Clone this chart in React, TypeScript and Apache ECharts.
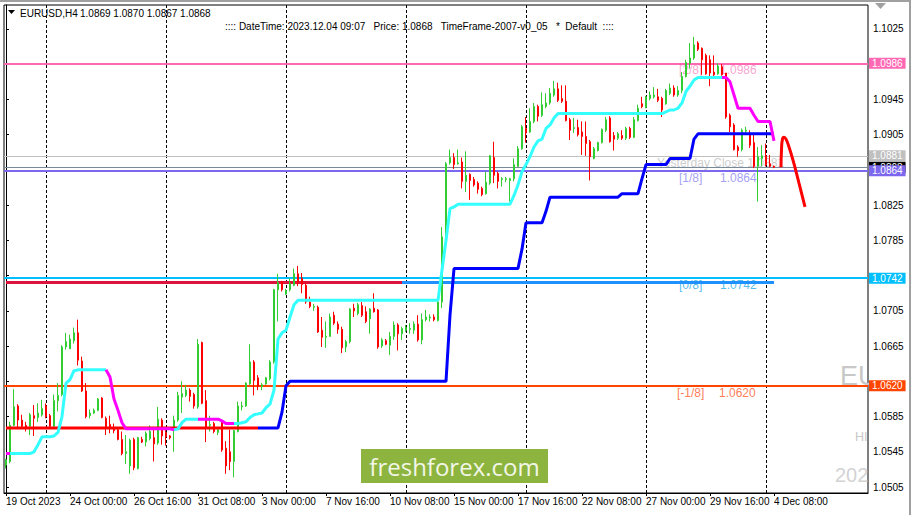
import React, { useEffect, useRef } from 'react';
import * as echarts from 'echarts';

// ---------- texts ----------
const symbolText = 'EURUSD,H4';
const headerPrices = '1.0869 1.0870 1.0867 1.0868';
const infoLine = ':::: DateTime: 2023.12.04 09:07   Price: 1.0868   TimeFrame-2007-v0_05   *  Default  ::::';
const logoText = 'freshforex.com';

// ---------- axes ----------
const xTickLabels = ['19 Oct 2023', '24 Oct 00:00', '26 Oct 16:00', '31 Oct 08:00', '3 Nov 00:00', '7 Nov 16:00', '10 Nov 08:00', '15 Nov 00:00', '17 Nov 16:00', '22 Nov 08:00', '27 Nov 00:00', '29 Nov 16:00', '4 Dec 08:00'];
const barsPerTick = 16;
const weekStartBars = [10, 40, 70, 100, 130, 160, 190];
const slotCount = 216;
const yTicks = [1.0505, 1.0545, 1.0585, 1.0625, 1.0665, 1.0705, 1.0745, 1.0785, 1.0825, 1.0865, 1.0905, 1.0945, 1.0985, 1.1025];
// tick labels that stay visible (the others sit under the price boxes)
const yTickLabels = [1.0505, 1.0545, 1.0585, 1.0665, 1.0705, 1.0785, 1.0825, 1.0905, 1.0945, 1.1025];
const yMin = 1.04982;
const yMax = 1.10522;

// ---------- candles: [open, high, low, close] ----------
const candles: number[][] = [
  [1.0530, 1.0537, 1.0526, 1.0536], [1.0534, 1.0579, 1.0532, 1.0575], [1.0575, 1.0616, 1.0574, 1.0596], [1.0597, 1.0599, 1.0572, 1.0581],
  [1.0581, 1.0587, 1.0572, 1.0574], [1.0575, 1.0579, 1.0568, 1.0573], [1.0574, 1.0589, 1.0564, 1.0587], [1.0586, 1.0598, 1.0563, 1.0583],
  [1.0584, 1.0600, 1.0579, 1.0589], [1.0587, 1.0604, 1.0585, 1.0594], [1.0597, 1.0600, 1.0583, 1.0585], [1.0586, 1.0588, 1.0573, 1.0574],
  [1.0574, 1.0610, 1.0572, 1.0603], [1.0603, 1.0623, 1.0591, 1.0609], [1.0610, 1.0666, 1.0608, 1.0664], [1.0664, 1.0680, 1.0661, 1.0670],
  [1.0662, 1.0678, 1.0662, 1.0673], [1.0671, 1.0686, 1.0668, 1.0680], [1.0680, 1.0695, 1.0643, 1.0649], [1.0648, 1.0653, 1.0613, 1.0614],
  [1.0614, 1.0623, 1.0583, 1.0585], [1.0586, 1.0593, 1.0583, 1.0589], [1.0589, 1.0594, 1.0588, 1.0592], [1.0592, 1.0606, 1.0591, 1.0605],
  [1.0606, 1.0607, 1.0583, 1.0584], [1.0583, 1.0585, 1.0564, 1.0572], [1.0576, 1.0586, 1.0566, 1.0572], [1.0572, 1.0577, 1.0566, 1.0569],
  [1.0570, 1.0572, 1.0558, 1.0559], [1.0559, 1.0568, 1.0541, 1.0543], [1.0543, 1.0564, 1.0531, 1.0545], [1.0529, 1.0560, 1.0520, 1.0558],
  [1.0559, 1.0561, 1.0524, 1.0527], [1.0526, 1.0562, 1.0525, 1.0561], [1.0559, 1.0562, 1.0555, 1.0556], [1.0556, 1.0568, 1.0551, 1.0566],
  [1.0560, 1.0575, 1.0558, 1.0568], [1.0561, 1.0570, 1.0534, 1.0554], [1.0555, 1.0596, 1.0553, 1.0582], [1.0581, 1.0583, 1.0553, 1.0563],
  [1.0567, 1.0571, 1.0552, 1.0562], [1.0563, 1.0564, 1.0559, 1.0561], [1.0572, 1.0586, 1.0545, 1.0581], [1.0581, 1.0613, 1.0579, 1.0609],
  [1.0607, 1.0625, 1.0589, 1.0611], [1.0609, 1.0621, 1.0607, 1.0615], [1.0615, 1.0617, 1.0602, 1.0608], [1.0610, 1.0612, 1.0594, 1.0597],
  [1.0596, 1.0673, 1.0594, 1.0667], [1.0669, 1.0670, 1.0599, 1.0600], [1.0603, 1.0615, 1.0556, 1.0572], [1.0575, 1.0586, 1.0568, 1.0576],
  [1.0577, 1.0579, 1.0566, 1.0568], [1.0567, 1.0572, 1.0564, 1.0570], [1.0579, 1.0581, 1.0545, 1.0547], [1.0549, 1.0557, 1.0520, 1.0529],
  [1.0545, 1.0570, 1.0524, 1.0534], [1.0534, 1.0570, 1.0516, 1.0569], [1.0568, 1.0602, 1.0567, 1.0597], [1.0596, 1.0602, 1.0592, 1.0597],
  [1.0597, 1.0624, 1.0596, 1.0623], [1.0622, 1.0667, 1.0621, 1.0647], [1.0647, 1.0649, 1.0609, 1.0626], [1.0629, 1.0632, 1.0615, 1.0619],
  [1.0619, 1.0623, 1.0615, 1.0621], [1.0622, 1.0630, 1.0621, 1.0629], [1.0628, 1.0649, 1.0626, 1.0647], [1.0647, 1.0730, 1.0645, 1.0729],
  [1.0729, 1.0747, 1.0693, 1.0737], [1.0738, 1.0739, 1.0727, 1.0729], [1.0724, 1.0730, 1.0723, 1.0728], [1.0729, 1.0742, 1.0727, 1.0736],
  [1.0734, 1.0753, 1.0733, 1.0747], [1.0747, 1.0756, 1.0733, 1.0737], [1.0742, 1.0748, 1.0725, 1.0735], [1.0734, 1.0736, 1.0713, 1.0715],
  [1.0715, 1.0721, 1.0708, 1.0710], [1.0709, 1.0713, 1.0705, 1.0710], [1.0709, 1.0711, 1.0680, 1.0681], [1.0683, 1.0698, 1.0664, 1.0675],
  [1.0675, 1.0693, 1.0663, 1.0676], [1.0676, 1.0702, 1.0676, 1.0698], [1.0700, 1.0704, 1.0689, 1.0691], [1.0690, 1.0693, 1.0679, 1.0684],
  [1.0684, 1.0687, 1.0657, 1.0663], [1.0664, 1.0672, 1.0658, 1.0670], [1.0670, 1.0708, 1.0668, 1.0707], [1.0708, 1.0713, 1.0698, 1.0705],
  [1.0702, 1.0714, 1.0700, 1.0712], [1.0711, 1.0715, 1.0698, 1.0700], [1.0704, 1.0710, 1.0691, 1.0693], [1.0696, 1.0708, 1.0679, 1.0707],
  [1.0708, 1.0725, 1.0703, 1.0704], [1.0706, 1.0707, 1.0662, 1.0664], [1.0665, 1.0674, 1.0663, 1.0672], [1.0671, 1.0673, 1.0666, 1.0667],
  [1.0666, 1.0681, 1.0655, 1.0676], [1.0676, 1.0693, 1.0672, 1.0689], [1.0689, 1.0691, 1.0660, 1.0679], [1.0679, 1.0687, 1.0672, 1.0685],
  [1.0683, 1.0689, 1.0681, 1.0686], [1.0684, 1.0691, 1.0679, 1.0685], [1.0683, 1.0693, 1.0679, 1.0690], [1.0690, 1.0700, 1.0670, 1.0672],
  [1.0672, 1.0702, 1.0667, 1.0695], [1.0695, 1.0706, 1.0693, 1.0698], [1.0697, 1.0701, 1.0693, 1.0698], [1.0698, 1.0701, 1.0693, 1.0695],
  [1.0694, 1.0717, 1.0693, 1.0715], [1.0715, 1.0800, 1.0708, 1.0789], [1.0789, 1.0874, 1.0787, 1.0872], [1.0873, 1.0888, 1.0871, 1.0879],
  [1.0879, 1.0884, 1.0866, 1.0871], [1.0872, 1.0888, 1.0871, 1.0873], [1.0874, 1.0879, 1.0844, 1.0852], [1.0852, 1.0886, 1.0840, 1.0859],
  [1.0860, 1.0861, 1.0831, 1.0853], [1.0854, 1.0857, 1.0846, 1.0848], [1.0850, 1.0852, 1.0838, 1.0843], [1.0844, 1.0846, 1.0835, 1.0837],
  [1.0838, 1.0863, 1.0837, 1.0851], [1.0850, 1.0882, 1.0848, 1.0881], [1.0879, 1.0897, 1.0850, 1.0859], [1.0861, 1.0863, 1.0844, 1.0852],
  [1.0854, 1.0857, 1.0846, 1.0855], [1.0854, 1.0857, 1.0851, 1.0855], [1.0853, 1.0856, 1.0829, 1.0855], [1.0855, 1.0878, 1.0852, 1.0871],
  [1.0869, 1.0892, 1.0868, 1.0889], [1.0889, 1.0916, 1.0888, 1.0914], [1.0912, 1.0925, 1.0896, 1.0907], [1.0908, 1.0935, 1.0907, 1.0920],
  [1.0920, 1.0941, 1.0918, 1.0937], [1.0937, 1.0939, 1.0920, 1.0926], [1.0927, 1.0953, 1.0925, 1.0939], [1.0937, 1.0952, 1.0935, 1.0941],
  [1.0941, 1.0958, 1.0939, 1.0952], [1.0950, 1.0966, 1.0948, 1.0957], [1.0957, 1.0964, 1.0942, 1.0944], [1.0946, 1.0961, 1.0941, 1.0943],
  [1.0943, 1.0961, 1.0920, 1.0921], [1.0922, 1.0924, 1.0899, 1.0910], [1.0912, 1.0924, 1.0907, 1.0913], [1.0913, 1.0922, 1.0903, 1.0905],
  [1.0908, 1.0920, 1.0882, 1.0903], [1.0903, 1.0920, 1.0881, 1.0895], [1.0897, 1.0899, 1.0853, 1.0880], [1.0878, 1.0891, 1.0877, 1.0889],
  [1.0887, 1.0897, 1.0886, 1.0896], [1.0896, 1.0912, 1.0895, 1.0911], [1.0910, 1.0925, 1.0908, 1.0922], [1.0924, 1.0926, 1.0896, 1.0897],
  [1.0904, 1.0908, 1.0887, 1.0900], [1.0901, 1.0908, 1.0899, 1.0906], [1.0904, 1.0910, 1.0899, 1.0901], [1.0901, 1.0914, 1.0899, 1.0912],
  [1.0912, 1.0914, 1.0900, 1.0902], [1.0902, 1.0925, 1.0901, 1.0922], [1.0921, 1.0939, 1.0920, 1.0935], [1.0940, 1.0948, 1.0935, 1.0937],
  [1.0936, 1.0949, 1.0935, 1.0948], [1.0946, 1.0954, 1.0944, 1.0950], [1.0948, 1.0959, 1.0946, 1.0950], [1.0948, 1.0957, 1.0942, 1.0944],
  [1.0946, 1.0948, 1.0925, 1.0933], [1.0940, 1.0957, 1.0939, 1.0955], [1.0952, 1.0963, 1.0950, 1.0958], [1.0958, 1.0961, 1.0948, 1.0950],
  [1.0950, 1.0960, 1.0948, 1.0955], [1.0955, 1.0976, 1.0952, 1.0971], [1.0971, 1.0990, 1.0970, 1.0987], [1.0986, 1.1009, 1.0980, 1.0992],
  [1.0992, 1.1016, 1.0990, 1.1007], [1.1009, 1.1011, 1.1000, 1.1002], [1.1003, 1.1004, 1.0973, 1.0990], [1.0995, 1.0997, 1.0973, 1.0974],
  [1.0990, 1.0995, 1.0960, 1.0975], [1.0976, 1.0995, 1.0971, 1.0973], [1.0974, 1.0986, 1.0973, 1.0983], [1.0982, 1.0985, 1.0972, 1.0973],
  [1.0975, 1.0975, 1.0923, 1.0925], [1.0927, 1.0929, 1.0908, 1.0914], [1.0916, 1.0918, 1.0887, 1.0888], [1.0891, 1.0893, 1.0880, 1.0887],
  [1.0888, 1.0912, 1.0886, 1.0910], [1.0909, 1.0914, 1.0907, 1.0910], [1.0906, 1.0910, 1.0890, 1.0893], [1.0896, 1.0906, 1.0867, 1.0869],
  [1.0869, 1.0891, 1.0829, 1.0880], [1.0878, 1.0893, 1.0869, 1.0881], [1.0881, 1.0895, 1.0869, 1.0871], [1.0872, 1.0882, 1.0868, 1.0869],
  [1.0869, 1.0870, 1.0867, 1.0868],
];

// ---------- fast trailing line (cyan up / magenta down) ----------
const fastLine = [
  1.0543, 1.0543, 1.0543, 1.0543, 1.0543, 1.0543, 1.0543, 1.0545, 1.0553, 1.0562,
  1.0562, 1.0562, 1.0563, 1.0567, 1.0585, 1.0623, 1.0627, 1.0637, 1.0638, 1.0638,
  1.0638, 1.0638, 1.0638, 1.0638, 1.0638, 1.0638, 1.0630, 1.0605, 1.0592, 1.0578,
  1.0571, 1.0571, 1.0571, 1.0571, 1.0571, 1.0571, 1.0571, 1.0571, 1.0571, 1.0571,
  1.0571, 1.0571, 1.0570, 1.0571, 1.0578, 1.0582, 1.0582, 1.0582, 1.0582, 1.0582,
  1.0582, 1.0582, 1.0582, 1.0582, 1.0580, 1.0577, 1.0577, 1.0577, 1.0577, 1.0578,
  1.0579, 1.0584, 1.0587, 1.0588, 1.0589, 1.0595, 1.0599, 1.0615, 1.0673, 1.0680,
  1.0683, 1.0698, 1.0712, 1.0717, 1.0717, 1.0717, 1.0717, 1.0717, 1.0717, 1.0717,
  1.0717, 1.0717, 1.0717, 1.0717, 1.0717, 1.0717, 1.0717, 1.0717, 1.0717, 1.0717,
  1.0717, 1.0717, 1.0717, 1.0717, 1.0717, 1.0717, 1.0717, 1.0717, 1.0717, 1.0717,
  1.0717, 1.0717, 1.0717, 1.0717, 1.0717, 1.0717, 1.0717, 1.0717, 1.0717, 1.0751,
  1.0785, 1.0821, 1.0823, 1.0826, 1.0826, 1.0826, 1.0826, 1.0826, 1.0826, 1.0826,
  1.0826, 1.0826, 1.0826, 1.0826, 1.0826, 1.0826, 1.0826, 1.0836, 1.0848, 1.0863,
  1.0871, 1.0880, 1.0891, 1.0898, 1.0900, 1.0912, 1.0916, 1.0924, 1.0929, 1.0929,
  1.0929, 1.0929, 1.0929, 1.0929, 1.0929, 1.0929, 1.0929, 1.0929, 1.0929, 1.0929,
  1.0929, 1.0929, 1.0929, 1.0929, 1.0929, 1.0929, 1.0929, 1.0929, 1.0929, 1.0929,
  1.0929, 1.0929, 1.0929, 1.0929, 1.0929, 1.0931, 1.0933, 1.0933, 1.0935, 1.0941,
  1.0954, 1.0960, 1.0967, 1.0970, 1.0970, 1.0970, 1.0970, 1.0970, 1.0970, 1.0970,
  1.0970, 1.0965, 1.0950, 1.0935, 1.0935, 1.0935, 1.0935, 1.0927, 1.0920, 1.0920,
  1.0920, 1.0920, 1.0898,
];
const fastDownRanges = [[0, 1], [25, 42], [48, 57], [179, 192]];

// ---------- slow trailing line (blue up / red down) ----------
const slowLine = [
  1.0572, 1.0572, 1.0572, 1.0572, 1.0572, 1.0572, 1.0572, 1.0572, 1.0572, 1.0572,
  1.0572, 1.0572, 1.0572, 1.0572, 1.0572, 1.0572, 1.0572, 1.0572, 1.0572, 1.0572,
  1.0572, 1.0572, 1.0572, 1.0572, 1.0572, 1.0572, 1.0572, 1.0572, 1.0572, 1.0572,
  1.0572, 1.0572, 1.0572, 1.0572, 1.0572, 1.0572, 1.0572, 1.0572, 1.0572, 1.0572,
  1.0572, 1.0572, 1.0572, 1.0572, 1.0572, 1.0572, 1.0572, 1.0572, 1.0572, 1.0572,
  1.0572, 1.0572, 1.0572, 1.0572, 1.0572, 1.0572, 1.0572, 1.0572, 1.0572, 1.0572,
  1.0572, 1.0572, 1.0572, 1.0572, 1.0572, 1.0572, 1.0572, 1.0572, 1.0572, 1.0590,
  1.0620, 1.0625, 1.0625, 1.0625, 1.0625, 1.0625, 1.0625, 1.0625, 1.0625, 1.0625,
  1.0625, 1.0625, 1.0625, 1.0625, 1.0625, 1.0625, 1.0625, 1.0625, 1.0625, 1.0625,
  1.0625, 1.0625, 1.0625, 1.0625, 1.0625, 1.0625, 1.0625, 1.0625, 1.0625, 1.0625,
  1.0625, 1.0625, 1.0625, 1.0625, 1.0625, 1.0625, 1.0625, 1.0625, 1.0625, 1.0625,
  1.0625, 1.0700, 1.0753, 1.0753, 1.0753, 1.0753, 1.0753, 1.0753, 1.0753, 1.0753,
  1.0753, 1.0753, 1.0753, 1.0753, 1.0753, 1.0753, 1.0753, 1.0753, 1.0753, 1.0775,
  1.0805, 1.0805, 1.0805, 1.0805, 1.0805, 1.0818, 1.0834, 1.0834, 1.0834, 1.0834,
  1.0834, 1.0834, 1.0834, 1.0834, 1.0834, 1.0834, 1.0834, 1.0834, 1.0834, 1.0834,
  1.0834, 1.0834, 1.0834, 1.0834, 1.0838, 1.0838, 1.0838, 1.0838, 1.0838, 1.0855,
  1.0871, 1.0871, 1.0871, 1.0871, 1.0871, 1.0871, 1.0878, 1.0878, 1.0878, 1.0878,
  1.0878, 1.0878, 1.0900, 1.0906, 1.0906, 1.0906, 1.0906, 1.0906, 1.0906, 1.0906,
  1.0906, 1.0906, 1.0906, 1.0906, 1.0906, 1.0906, 1.0906, 1.0906, 1.0906, 1.0906,
  1.0906, 1.0906, 1.0906,
];
const slowDownRanges = [[0, 63]];

// ---------- horizontal levels ----------
const levelValues = [1.0986, 1.0881, 1.0868, 1.0864, 1.0742, 1.0620];
const segmentLevel = 1.0738;
const segmentBars = [[0, 99], [99, 192]];
const murreyTags = ['[2/8]', '[1/8]', '[0/8]', '[-1/8]'];
const murreyValues = [1.0986, 1.0864, 1.0742, 1.0620];
const yesterdayClose = 1.0881;

// ---------- forecast curve: [bar, price] ----------
const forecast = [
  [193.75, 1.0868], [193.875, 1.0888], [194.125, 1.0900], [194.5, 1.0902], [195.0, 1.0900],
  [195.75, 1.0891], [196.75, 1.0876], [198.25, 1.0850], [199.75, 1.0823],
];

// ---------- styles ----------
const FONT = '"Liberation Sans", Arial, sans-serif';
const levelStyles = [
  { color: '#ff69b4', width: 2, box: '#ff69b4' },
  { color: '#c0c0c0', width: 1, box: '#c0c0c0' },
  { color: '#778899', width: 1, box: '#000000' },
  { color: '#7b68ee', width: 2, box: '#7b68ee' },
  { color: '#00bfff', width: 2, box: '#00bfff' },
  { color: '#ff4500', width: 2, box: '#ff4500' },
];
const segmentColors = ['#dc143c', '#1e90ff'];
const murreyTextColors = ['#f78cc4', '#8c86f2', '#2aaae8', '#ff5a2a'];
const murreyTagBar = [168.25, 168.25, 168.25, 167.75];
const murreyValueBar = [178.5, 178.5, 178.5, 178.25];
const yesterdayBar = 162.75;

const MONTHS = ['Jan', 'Feb', 'Mar', 'Apr', 'May', 'Jun', 'Jul', 'Aug', 'Sep', 'Oct', 'Nov', 'Dec'];
const firstBarUTC = Date.UTC(2023, 9, 19, 8, 0);

function buildCategories(): string[] {
  const out: string[] = [];
  for (let t = firstBarUTC; out.length < slotCount; t += 4 * 3600000) {
    const d = new Date(t);
    const wd = d.getUTCDay();
    if (wd === 0 || wd === 6) continue;
    out.push(`${d.getUTCDate()} ${MONTHS[d.getUTCMonth()]} ${String(d.getUTCHours()).padStart(2, '0')}:00`);
  }
  return out;
}

function splitByRanges(values: number[], ranges: number[][]) {
  const segDown = (i: number) => ranges.some(([a, b]) => i >= a && i + 1 <= b);
  const n = values.length;
  const down = values.map((v, i) => (segDown(i - 1) || segDown(i) ? v : null));
  const up = values.map((v, i) => ((i > 0 && !segDown(i - 1)) || (i < n - 1 && !segDown(i)) ? v : null));
  return { up, down };
}

function buildOption() {
  const categories = buildCategories();
  const fast = splitByRanges(fastLine, fastDownRanges);
  const slow = splitByRanges(slowLine, slowDownRanges);
  const tickShown = (index: number) => index % barsPerTick === 0 && index / barsPerTick < xTickLabels.length;

  const levelMarks: any[] = levelValues.map((v, k) => ({
    yAxis: v,
    lineStyle: { color: levelStyles[k].color, width: levelStyles[k].width, type: 'solid' },
    label: {
      show: true,
      position: 'end',
      distance: 1,
      formatter: v.toFixed(4),
      color: '#ffffff',
      backgroundColor: levelStyles[k].box,
      padding: [1, 3, 0, 3],
      fontSize: 10,
      lineHeight: 10,
      fontFamily: FONT,
    },
  }));
  const weekMarks: any[] = weekStartBars.map((b) => ({
    xAxis: b,
    lineStyle: { color: '#000000', width: 1, type: [3, 2] },
    label: { show: false },
  }));
  const segmentMarks: any[] = segmentBars.map(([a, b], k) => [
    { coord: [a, segmentLevel], lineStyle: { color: segmentColors[k], width: 3, type: 'solid' }, label: { show: false } },
    { coord: [b, segmentLevel] },
  ]);

  const textPoints: any[] = [];
  murreyValues.forEach((v, k) => {
    textPoints.push({ value: [murreyTagBar[k], v], label: { formatter: murreyTags[k], color: murreyTextColors[k] } });
    textPoints.push({ value: [murreyValueBar[k], v], label: { formatter: v.toFixed(4), color: murreyTextColors[k] } });
  });
  textPoints.push({ value: [yesterdayBar, yesterdayClose], label: { formatter: 'Yesterday Close ' + yesterdayClose.toFixed(4), color: '#c0c0c0' } });

  const lineBase = { type: 'line', showSymbol: false, symbol: 'none', connectNulls: false, silent: true, animation: false };

  return {
    animation: false,
    backgroundColor: '#ffffff',
    textStyle: { fontFamily: FONT },
    grid: { left: 4, right: 43, top: 5, bottom: 22, show: true, borderColor: '#000000', borderWidth: 1, backgroundColor: '#ffffff', z: 0 },
    xAxis: [
      {
        type: 'category',
        data: categories,
        boundaryGap: true,
        z: 3,
        axisLine: { show: true, lineStyle: { color: '#000000', width: 1 } },
        axisTick: { show: true, alignWithLabel: true, interval: tickShown, length: 3, lineStyle: { color: '#000000' } },
        axisLabel: {
          interval: tickShown,
          formatter: (_v: string, index: number) => xTickLabels[index / barsPerTick] ?? '',
          align: 'left',
          color: '#000000',
          fontSize: 10,
          margin: 3,
          fontFamily: FONT,
        },
        splitLine: { show: false },
      },
      { type: 'value', min: -0.5, max: slotCount - 0.5, show: false },
    ],
    yAxis: {
      type: 'value',
      position: 'right',
      min: yMin,
      max: yMax,
      z: 3,
      axisLine: { show: true, lineStyle: { color: '#000000', width: 1 } },
      axisTick: { show: true, length: 3, customValues: yTicks, lineStyle: { color: '#000000' } },
      axisLabel: { customValues: yTickLabels, formatter: (v: number) => v.toFixed(4), color: '#000000', fontSize: 10, margin: 5, fontFamily: FONT },
      splitLine: { show: false },
    },
    series: [
      {
        type: 'line',
        data: [],
        z: 4,
        silent: true,
        markLine: {
          silent: true,
          precision: 5,
          symbol: ['none', 'none'],
          animation: false,
          data: [...weekMarks, ...segmentMarks, ...levelMarks],
        },
      },
      {
        type: 'scatter',
        xAxisIndex: 1,
        symbolSize: 0,
        z: 4,
        silent: true,
        label: { show: true, position: 'right', distance: 0, offset: [0, 7], fontSize: 12, fontFamily: FONT },
        data: textPoints,
      },
      {
        type: 'candlestick',
        z: 5,
        silent: true,
        barWidth: 2,
        data: candles.map(([o, h, l, c]) => [o, c, l, h]),
        itemStyle: { color: '#32cd32', color0: '#ff0000', borderColor: '#32cd32', borderColor0: '#ff0000', borderWidth: 1 },
      },
      { ...lineBase, z: 6, data: slow.up, lineStyle: { color: '#0000ff', width: 3 } },
      { ...lineBase, z: 6, data: slow.down, lineStyle: { color: '#ff0000', width: 3 } },
      { ...lineBase, z: 7, data: fast.up, lineStyle: { color: '#33ffff', width: 3 } },
      { ...lineBase, z: 7, data: fast.down, lineStyle: { color: '#ff00ff', width: 3 } },
      { ...lineBase, z: 7, xAxisIndex: 1, smooth: 0.5, data: forecast, lineStyle: { color: '#ff0000', width: 3 } },
    ],
    graphic: [
      { type: 'text', z: 1, x: 840, y: 376, style: { text: 'EU', fill: '#c8c8c8', font: `27px ${FONT}`, verticalAlign: 'middle' } },
      { type: 'text', z: 1, x: 855, y: 437, style: { text: 'HI', fill: '#c8c8c8', font: `12.5px ${FONT}`, verticalAlign: 'middle' } },
      { type: 'text', z: 1, x: 835, y: 475, style: { text: '2023', fill: '#d3d3d3', font: `20px ${FONT}`, verticalAlign: 'middle' } },
      { type: 'rect', z: 2, shape: { x: 869, y: 340, width: 42, height: 154 }, style: { fill: '#ffffff' } },
      { type: 'polygon', z: 10, shape: { points: [[8, 10], [15, 10], [11.5, 14]] }, style: { fill: '#000000' } },
      { type: 'text', z: 10, x: 20, y: 13, style: { text: symbolText, fill: '#000000', font: `10px ${FONT}`, verticalAlign: 'middle' } },
      { type: 'text', z: 10, x: 80, y: 13, style: { text: headerPrices, fill: '#000000', font: `10px ${FONT}`, verticalAlign: 'middle' } },
      { type: 'text', z: 10, x: 225, y: 26, style: { text: infoLine, fill: '#000000', font: `10px ${FONT}`, verticalAlign: 'middle' } },
      { type: 'rect', z: 10, shape: { x: 361, y: 449, width: 187, height: 34 }, style: { fill: '#8db43e' } },
      { type: 'text', z: 11, x: 454.5, y: 466, style: { text: logoText, fill: '#f2f6e6', font: `24px "Open Sans", ${FONT}`, align: 'center', verticalAlign: 'middle' } },
      { type: 'polygon', z: 10, shape: { points: [[875, 3], [886, 3], [880.5, 9]] }, style: { fill: '#a0a0a0' } },
      { type: 'rect', z: 12, shape: { x: 0, y: 0, width: 911, height: 2 }, style: { fill: '#a0a0a0' } },
      { type: 'rect', z: 12, shape: { x: 909, y: 0, width: 2, height: 515 }, style: { fill: '#a0a0a0' } },
    ],
  };
}

export default function App() {
  const ref = useRef<HTMLDivElement>(null);
  useEffect(() => {
    document.body.style.margin = '0';
    if (!ref.current) return;
    const chart = echarts.init(ref.current, null, { renderer: 'svg' });
    chart.setOption(buildOption() as any);
    return () => chart.dispose();
  }, []);
  return <div ref={ref} style={{ width: 911, height: 515 }} />;
}
